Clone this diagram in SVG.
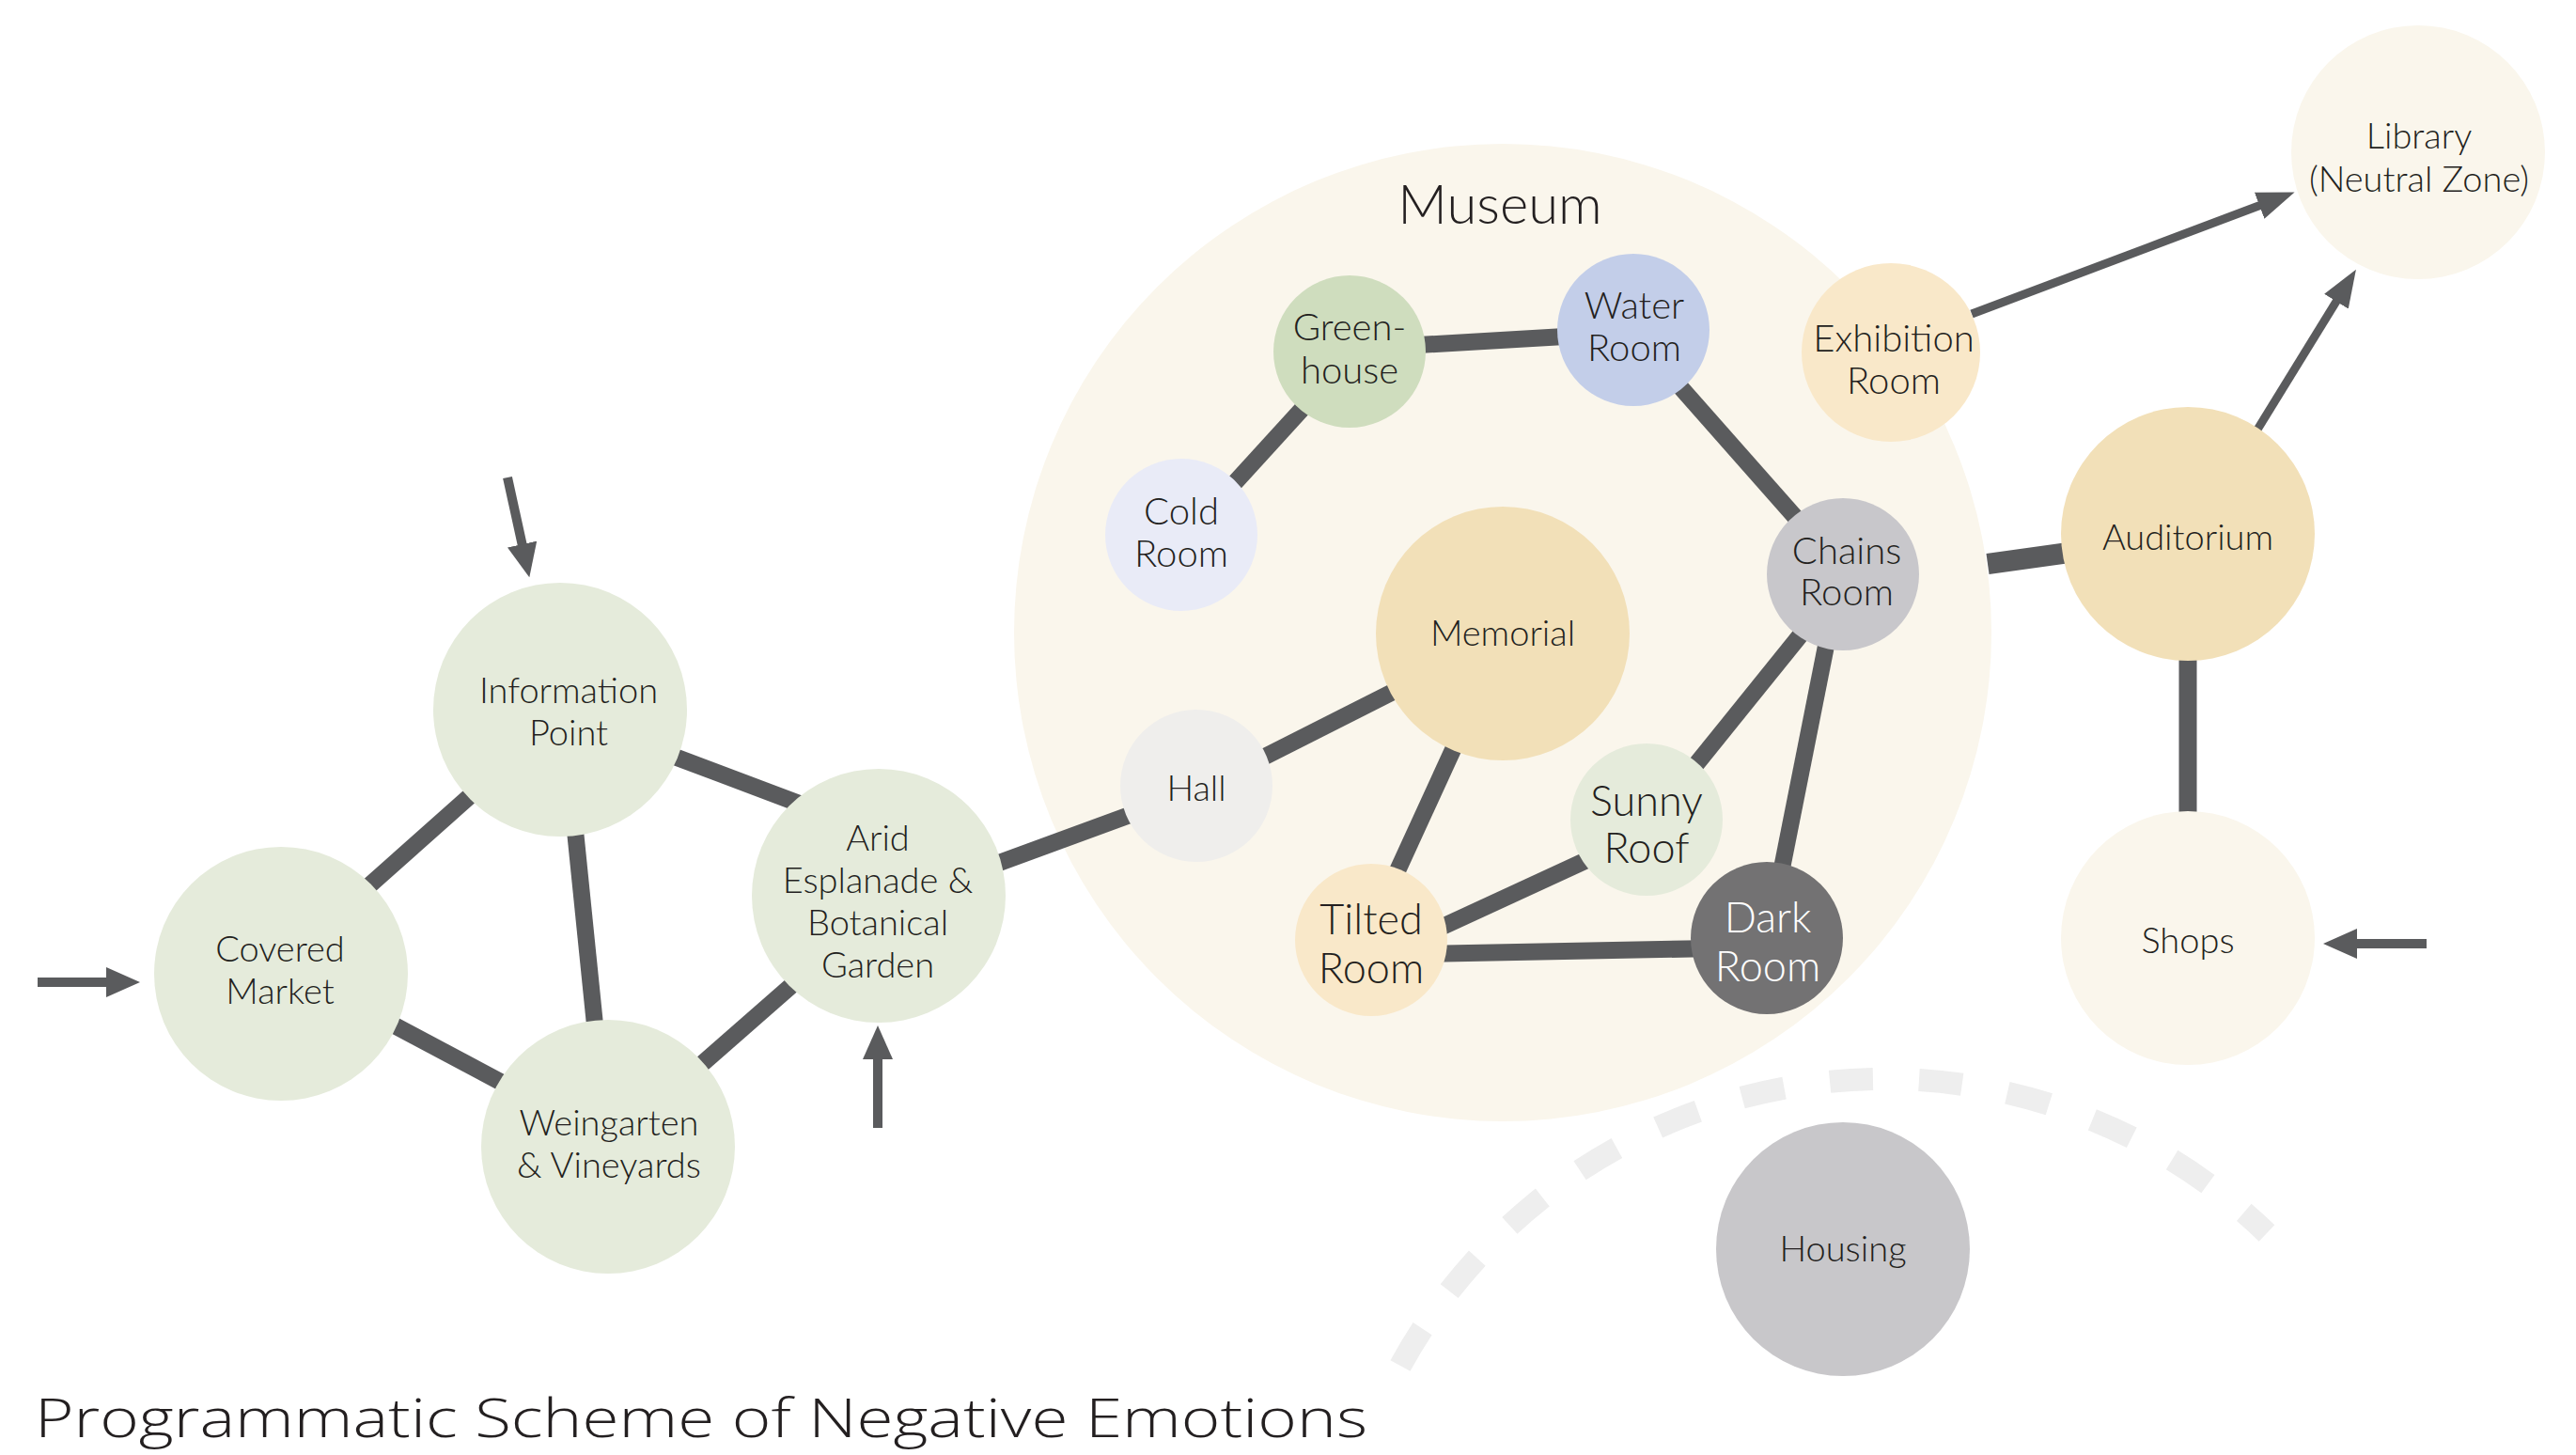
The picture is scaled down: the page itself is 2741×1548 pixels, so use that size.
<svg xmlns="http://www.w3.org/2000/svg" width="2741" height="1548" viewBox="0 0 2741 1548">
<style>
.t{font-family:Lato,"Open Sans","Liberation Sans",sans-serif;font-weight:300;fill:#231f20;text-anchor:middle}
.o{font-size:38px}
.i{font-size:40px}
.b{font-size:45px}
.c{stroke:#5a5b5d;stroke-width:18;fill:none}
.a{stroke:#5a5b5d;stroke-width:10;fill:none}
.g{fill:#e5ebdb}
.cream{fill:#faf6ec}
</style>
<defs>
<marker id="ah" markerUnits="userSpaceOnUse" markerWidth="36" markerHeight="32" refX="2" refY="16" orient="auto"><path d="M0,0 L36,16 L0,32 z" fill="#5a5b5d"/></marker>
<marker id="ah2" markerUnits="userSpaceOnUse" markerWidth="40" markerHeight="30" refX="2" refY="15" orient="auto"><path d="M0,0 L40,15 L0,30 z" fill="#5a5b5d"/></marker>
</defs>
<rect width="2741" height="1548" fill="#ffffff"/>
<g id="museum">
<circle cx="1599" cy="673" r="520" class="cream"/>
<text x="1596" y="238" class="t" style="font-size:58px">Museum</text>
</g>
<path id="housing-boundary" d="M1490,1453 A587,587 0 0 1 2412,1312" fill="none" stroke="#eeeeee" stroke-width="24" stroke-dasharray="46 49"/>
<g id="connectors">
<line class="c" x1="374" y1="959" x2="519" y2="830"/>
<line class="c" x1="610" y1="864" x2="635" y2="1110"/>
<line class="c" x1="699" y1="798" x2="869" y2="862"/>
<line class="c" x1="399" y1="1080" x2="555" y2="1163"/>
<line class="c" x1="732" y1="1145" x2="861" y2="1032"/>
<line class="c" x1="1044" y1="925" x2="1224" y2="859"/>
<line class="c" x1="1326" y1="815" x2="1502" y2="726"/>
<line class="c" x1="1555" y1="778" x2="1478" y2="946"/>
<line class="c" x1="1515" y1="995" x2="1708" y2="906"/>
<line class="c" x1="1515" y1="1015" x2="1823" y2="1009"/>
<line class="c" x1="1788" y1="834" x2="1930" y2="658"/>
<line class="c" x1="1947" y1="667" x2="1892" y2="944"/>
<line class="c" x1="1774" y1="396" x2="1926" y2="568"/>
<line class="c" x1="1492" y1="368" x2="1682" y2="357"/>
<line class="c" x1="1402" y1="417" x2="1298" y2="531"/>
<line class="c" style="stroke-width:22" x1="2115" y1="600" x2="2230" y2="584"/>
<line class="c" style="stroke-width:19" x1="2328" y1="690" x2="2328" y2="880"/>
<line class="a" style="stroke-width:9" x1="2098" y1="334" x2="2406" y2="218" marker-end="url(#ah2)"/>
<line class="a" style="stroke-width:9" x1="2402" y1="457" x2="2487" y2="319" marker-end="url(#ah2)"/>
<line class="a" x1="540" y1="508" x2="556" y2="581" marker-end="url(#ah)"/>
<line class="a" x1="40" y1="1045" x2="115" y2="1045" marker-end="url(#ah)"/>
<line class="a" x1="934" y1="1200" x2="934" y2="1125" marker-end="url(#ah)"/>
<line class="a" x1="2582" y1="1004" x2="2506" y2="1004" marker-end="url(#ah)"/>
</g>
<g id="information-point"><circle cx="596" cy="755" r="135" class="g"/><text class="t o" x="605" y="748">Information</text><text class="t o" x="605" y="793">Point</text></g>
<g id="covered-market"><circle cx="299" cy="1036" r="135" class="g"/><text class="t o" x="298" y="1023">Covered</text><text class="t o" x="298" y="1068">Market</text></g>
<g id="weingarten"><circle cx="647" cy="1220" r="135" class="g"/><text class="t o" x="648" y="1208">Weingarten</text><text class="t o" x="648" y="1253">&amp; Vineyards</text></g>
<g id="arid-esplanade"><circle cx="935" cy="953" r="135" class="g"/><text class="t o" x="934" y="905">Arid</text><text class="t o" x="934" y="950">Esplanade &amp;</text><text class="t o" x="934" y="995">Botanical</text><text class="t o" x="934" y="1040">Garden</text></g>
<g id="hall"><circle cx="1273" cy="836" r="81" fill="#efeeec"/><text class="t o" x="1273" y="852">Hall</text></g>
<g id="memorial"><circle cx="1599" cy="674" r="135" fill="#f2e0b8"/><text class="t o" x="1599" y="687">Memorial</text></g>
<g id="cold-room"><circle cx="1257" cy="569" r="81" fill="#e9ebf7"/><text class="t i" x="1257" y="558">Cold</text><text class="t i" x="1257" y="603">Room</text></g>
<g id="greenhouse"><circle cx="1436" cy="374" r="81" fill="#cfddbe"/><text class="t i" x="1436" y="362">Green-</text><text class="t i" x="1436" y="408">house</text></g>
<g id="water-room"><circle cx="1738" cy="351" r="81" fill="#c3cee9"/><text class="t i" x="1739" y="339">Water</text><text class="t i" x="1739" y="384">Room</text></g>
<g id="chains-room"><circle cx="1961" cy="611" r="81" fill="#c8c7cb"/><text class="t i" x="1965" y="600">Chains</text><text class="t i" x="1965" y="644">Room</text></g>
<g id="sunny-roof"><circle cx="1752" cy="872" r="81" fill="#e5ebdb"/><text class="t b" x="1752" y="868">Sunny</text><text class="t b" x="1752" y="918">Roof</text></g>
<g id="tilted-room"><circle cx="1459" cy="1000" r="81" fill="#f9e8c9"/><text class="t b" x="1459" y="994">Tilted</text><text class="t b" x="1459" y="1046">Room</text></g>
<g id="dark-room"><circle cx="1880" cy="998" r="81" fill="#737273"/><text class="t b" x="1881" y="992" style="fill:#ffffff">Dark</text><text class="t b" x="1881" y="1044" style="fill:#ffffff">Room</text></g>
<g id="exhibition-room"><circle cx="2012" cy="375" r="95" fill="#f9e8c9"/><text class="t i" x="2015" y="374">Exhibition</text><text class="t i" x="2015" y="419">Room</text></g>
<g id="auditorium"><circle cx="2328" cy="568" r="135" fill="#f2e0b8"/><text class="t o" x="2328" y="585">Auditorium</text></g>
<g id="shops"><circle cx="2328" cy="998" r="135" class="cream"/><text class="t o" x="2328" y="1014">Shops</text></g>
<g id="library"><circle cx="2573" cy="162" r="135" class="cream"/><text class="t o" x="2574" y="158">Library</text><text class="t o" x="2574" y="204">(Neutral Zone)</text></g>
<g id="housing"><circle cx="1961" cy="1329" r="135" fill="#c8c7ca"/><text class="t o" x="1961" y="1342">Housing</text></g>
<text x="37" y="1529" font-family="'Open Sans','Liberation Sans',sans-serif" font-weight="300" font-size="57" fill="#231f20" textLength="1418" lengthAdjust="spacingAndGlyphs">Programmatic Scheme of Negative Emotions</text>
</svg>
